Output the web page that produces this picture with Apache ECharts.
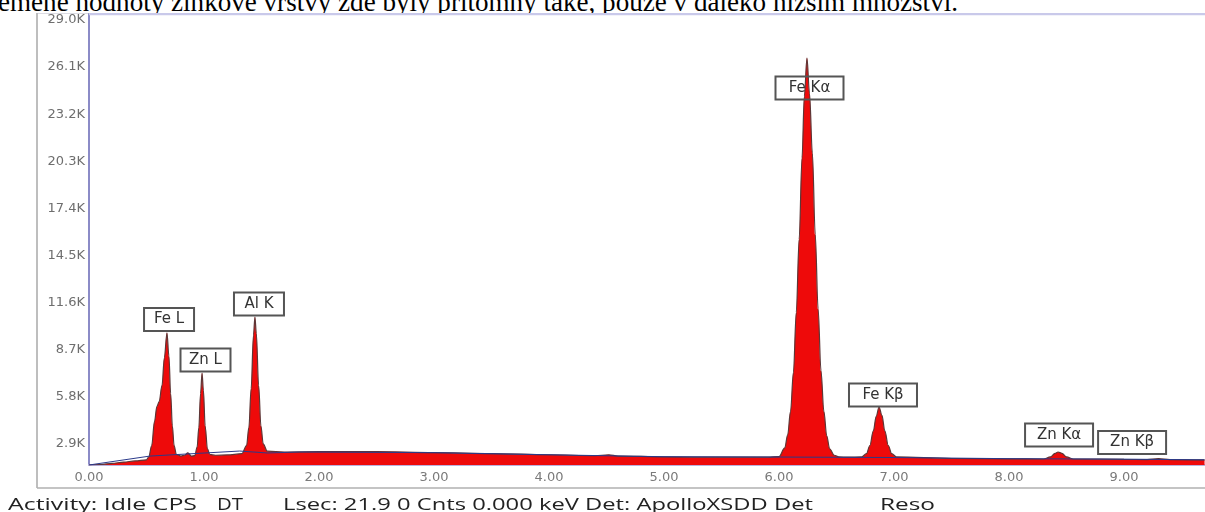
<!DOCTYPE html>
<html>
<head>
<meta charset="utf-8">
<script src="https://cdn.jsdelivr.net/npm/echarts@6/dist/echarts.min.js"></script>
<style>
  html, body { margin:0; padding:0; background:#fff; width:1205px; height:512px; overflow:hidden; }
  #chart { position:absolute; left:0; top:0; width:1205px; height:512px; }
  #toptext { position:absolute; left:0; top:0; width:1205px; height:13px; overflow:hidden; background:#fff; z-index:2; }
  .fit { position:absolute; white-space:nowrap; transform-origin:0 0; }
  #topline { left:-2px; top:-11px; font-family:'Liberation Serif', serif; font-size:27px; line-height:27px; color:#000; }
  .bottom { top:494px; font-family:'Open Sans', sans-serif; font-size:15.5px; line-height:20px; color:#222; z-index:2; }
</style>
</head>
<body>
<div id="chart"></div>
<div id="toptext"><span id="topline" class="fit" data-w="960">emene hodnoty zinkové vrstvy zde byly přítomny také, pouze v daleko nižším množství.</span></div>
<span class="fit bottom" style="left:8px" data-w="189">Activity: Idle CPS</span>
<span class="fit bottom" style="left:217px" data-w="26">DT</span>
<span class="fit bottom" style="left:283px" data-w="530">Lsec: 21.9 0 Cnts 0.000 keV Det: ApolloXSDD Det</span>
<span class="fit bottom" style="left:880px" data-w="55">Reso</span>
<script>
// ---- data ----
const energyKeV = [0.00,0.10,0.20,0.30,0.40,0.50,0.52,0.545,0.57,0.59,0.61,0.635,0.655,0.678,0.695,0.71,0.725,0.74,0.76,0.80,0.83,0.86,0.89,0.92,0.94,0.955,0.97,0.983,0.995,1.01,1.03,1.05,1.10,1.20,1.33,1.37,1.39,1.41,1.43,1.443,1.455,1.475,1.495,1.515,1.55,1.70,2.00,2.50,3.00,3.50,4.00,4.40,4.52,4.60,5.00,5.50,5.90,6.00,6.05,6.075,6.10,6.125,6.15,6.175,6.20,6.22,6.243,6.265,6.29,6.315,6.34,6.365,6.39,6.415,6.44,6.48,6.52,6.60,6.72,6.76,6.79,6.82,6.845,6.87,6.895,6.92,6.95,6.98,7.02,7.50,8.00,8.30,8.36,8.40,8.426,8.46,8.50,8.56,9.00,9.20,9.30,9.40,9.70];
const counts = [1600,1630,1700,1780,1850,1920,2100,2800,4300,5200,5500,6500,8200,9730,8300,6000,4000,2800,2250,2150,2200,2350,2150,2180,2700,3900,6000,7260,6200,4000,2600,2250,2200,2220,2300,2800,3900,6300,9600,10710,9700,6500,4000,2900,2450,2400,2420,2420,2360,2300,2230,2170,2230,2150,2100,2080,2080,2120,2650,3450,4900,7300,11000,15500,20500,24300,26660,24500,20800,15800,11200,7400,4900,3400,2600,2200,2100,2080,2100,2300,2800,3700,4600,5170,4650,3700,2800,2300,2100,2000,1980,1970,2100,2320,2400,2320,2100,1970,1950,1930,1990,1930,1910];
const bgKeV = [0.00,0.53,1.31,1.55,1.83,3.00,4.00,5.00,6.00,7.00,8.00,9.00,9.70];
const bgCounts = [1600,2150,2460,2340,2400,2360,2230,2110,2090,2060,1990,1960,1920];
const peakNames = ['Fe L','Zn L','Al K','Fe K\u03b1','Fe K\u03b2','Zn K\u03b1','Zn K\u03b2'];
const peakLabelKeV = [0.696,1.013,1.478,6.265,6.904,8.435,9.07];
const peakLabelCounts = [10558,8065,11513,24812,5910,3447,2985];
const xTickValues = [0,1,2,3,4,5,6,7,8,9];
const xTickLabels = ['0.00','1.00','2.00','3.00','4.00','5.00','6.00','7.00','8.00','9.00'];
const yTickValues = [2900,5800,8700,11600,14500,17400,20300,23200,26100,29000];
const yTickLabels = ['2.9K','5.8K','8.7K','11.6K','14.5K','17.4K','20.3K','23.2K','26.1K','29.0K'];

// ---- fit stretched html text ----
document.querySelectorAll('.fit').forEach(el => {
  const w = el.getBoundingClientRect().width;
  const target = parseFloat(el.dataset.w);
  if (w > 0) el.style.transform = 'scaleX(' + (target / w) + ')';
});

const spectrum = energyKeV.map((e, i) => [e, counts[i]]);
const background = bgKeV.map((e, i) => [e, bgCounts[i]]);
const markData = peakNames.map((n, i) => ({
  name: n, coord: [peakLabelKeV[i], peakLabelCounts[i]],
  label: { width: n.length <= 4 ? 36 : 54 }
}));

const chart = echarts.init(document.getElementById('chart'), null, { renderer: 'canvas' });
chart.setOption({
  animation: false,
  backgroundColor: '#fff',
  grid: { left: 89, right: 0, top: 13, bottom: 47, outerBoundsMode: 'none' },
  xAxis: {
    type: 'value', min: 0, max: 9.704,
    axisLine: { show: true, lineStyle: { color: '#b9b2dd', width: 2 } },
    axisTick: { show: false },
    splitLine: { show: false },
    axisLabel: {
      customValues: xTickValues,
      formatter: v => xTickLabels[xTickValues.indexOf(Math.round(v))] || '',
      margin: 6, color: '#7a7a7a', fontFamily: 'DejaVu Sans', fontSize: 13
    }
  },
  yAxis: {
    type: 'value', min: 1600, max: 29430,
    axisLine: { show: true, lineStyle: { color: '#6464b4', width: 1.5 } },
    axisTick: { show: false },
    splitLine: { show: false },
    axisLabel: {
      customValues: yTickValues,
      formatter: v => yTickLabels[yTickValues.indexOf(Math.round(v))] || '',
      margin: 4, color: '#6e6e6e', fontFamily: 'DejaVu Sans', fontSize: 13
    }
  },
  graphic: [
    { type: 'line', shape: { x1: 37, y1: 12.5, x2: 37, y2: 488 }, style: { stroke: '#a8a8a8', lineWidth: 1.5 }, z: 1 },
    { type: 'line', shape: { x1: 37, y1: 488, x2: 1205, y2: 488 }, style: { stroke: '#b0b0b0', lineWidth: 1.5 }, z: 1 },
    { type: 'line', shape: { x1: 37, y1: 13, x2: 89, y2: 13 }, style: { stroke: '#b8b8c8', lineWidth: 1 }, z: 1 },
    { type: 'line', shape: { x1: 89, y1: 14, x2: 1205, y2: 14 }, style: { stroke: '#c9c9ea', lineWidth: 2.5 }, z: 1 }
  ],
  series: [
    {
      type: 'line', data: spectrum, showSymbol: false, symbol: 'none',
      smooth: 0.35, smoothMonotone: 'x',
      lineStyle: { color: '#5e3636', width: 1.2 },
      areaStyle: { color: '#ee0a0a', opacity: 1, origin: 'start' },
      z: 2,
      markPoint: {
        symbol: 'circle', symbolSize: 1,
        itemStyle: { color: 'rgba(0,0,0,0)' },
        label: {
          show: true, position: 'inside', formatter: '{b}',
          color: '#333', fontFamily: 'DejaVu Sans', fontSize: 15,
          align: 'center', lineHeight: 18,
          borderColor: '#555', borderWidth: 1, padding: [3, 7, 2, 7],
          backgroundColor: 'transparent'
        },
        data: markData
      }
    },
    {
      type: 'line', data: background, showSymbol: false, symbol: 'none',
      lineStyle: { color: '#2b3a8a', width: 1 }, z: 3
    }
  ]
});
</script>
</body>
</html>
